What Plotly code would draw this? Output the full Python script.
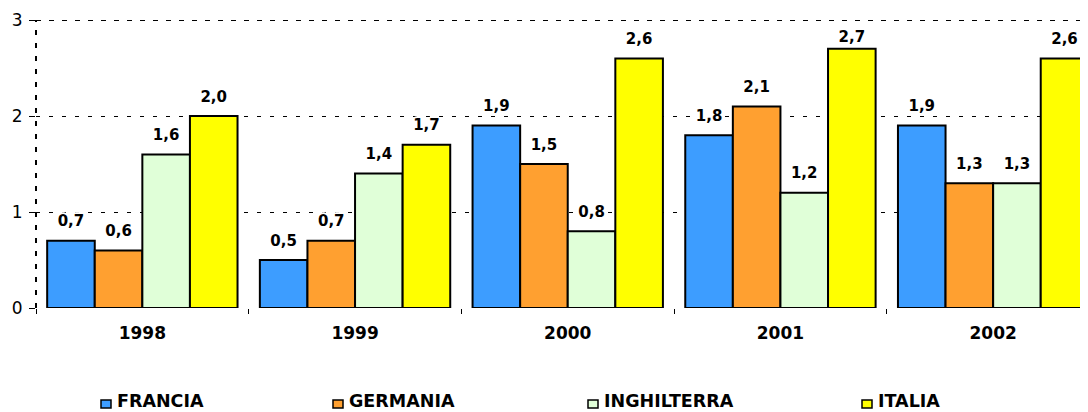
import plotly.graph_objects as go

years = ["1998", "1999", "2000", "2001", "2002"]
series = ["FRANCIA", "GERMANIA", "INGHILTERRA", "ITALIA"]
francia = [0.7, 0.5, 1.9, 1.8, 1.9]
germania = [0.6, 0.7, 1.5, 2.1, 1.3]
inghilterra = [1.6, 1.4, 0.8, 1.2, 1.3]
italia = [2.0, 1.7, 2.6, 2.7, 2.6]
y_ticks = [0, 1, 2, 3]

colors = ["#3D9DFF", "#FFA030", "#E0FFD8", "#FFFF00"]
values = [francia, germania, inghilterra, italia]

FONT = "DejaVu Sans"
OFF = 8  # page body margin
W, H = 1088 - OFF, 412 - OFF
ML, MR, MT, MB = 36 - OFF, 0, 20 - OFF, 104
YMAX = 3
LABEL_FS = 15

pw = W - ML - MR
ph = H - MT - MB
px_per_unit = ph / YMAX


def label_marker_size(v):
    # gap (px) from bar top to label baseline; labels kept inside plot area
    gap = min(14.4, (YMAX - v) * px_per_unit - 21.7)
    r = gap - 0.25 * LABEL_FS
    return max(0.0, 2 * (r - 1) * 0.8)


fig = go.Figure()
for name, vals, col in zip(series, values, colors):
    fig.add_trace(go.Bar(
        x=years, y=vals, name=name,
        marker=dict(color=col, line=dict(color="black", width=2)),
        showlegend=False, hoverinfo="skip",
    ))
for name, vals in zip(series, values):
    fig.add_trace(go.Scatter(
        x=years, y=vals, name=name, mode="markers+text",
        texttemplate="%{y:.1f}", textposition="top center",
        marker=dict(size=[label_marker_size(v) for v in vals], opacity=0),
        textfont=dict(family=FONT, size=LABEL_FS, color="black", weight="bold",
                      shadow="2px 0 1px white, -2px 0 1px white, 0 2px 1px white, 0 -2px 1px white"),
        showlegend=False, hoverinfo="skip", cliponaxis=False,
    ))

# plot-area border (dashed) on left and top
shapes = [
    dict(type="line", xref="paper", yref="y", x0=0, x1=1, y0=YMAX, y1=YMAX,
         line=dict(color="black", width=2, dash="5px,8px")),
    dict(type="line", xref="paper", yref="y", x0=0, x1=0, y0=0, y1=YMAX,
         line=dict(color="black", width=2, dash="5px,8px")),
]


# custom legend (page pixel positions converted to paper coords)
def px2x(px):
    return (px - OFF - ML) / pw


def py2y(py):
    return (OFF + H - MB - py) / ph


legend_px = [101, 333, 588, 862]
annotations = []
for name, col, lx in zip(series, colors, legend_px):
    shapes.append(dict(type="rect", xref="paper", yref="paper",
                       x0=px2x(lx), x1=px2x(lx + 10), y0=py2y(408), y1=py2y(400),
                       fillcolor=col, line=dict(color="black", width=1.5)))
    annotations.append(dict(xref="paper", yref="paper", x=px2x(lx + 15), y=py2y(401),
                            text=name, showarrow=False, xanchor="left", yanchor="middle",
                            borderpad=0,
                            font=dict(family=FONT, size=17.5, color="black", weight="bold")))

fig.update_layout(
    width=W, height=H,
    margin=dict(l=ML, r=MR, t=MT, b=MB, pad=0),
    plot_bgcolor="white", paper_bgcolor="white",
    barmode="group", bargap=0.105, bargroupgap=0,
    scattermode="group", scattergap=0.105,
    separators=",.",
    showlegend=False,
    font=dict(family=FONT, color="black"),
    shapes=shapes, annotations=annotations,
    xaxis=dict(type="category", range=[-0.5, 4.446], tickson="boundaries",
               ticks="outside", ticklen=5, tickcolor="black", tickwidth=1,
               showgrid=False, showline=False, zeroline=False,
               ticklabelstandoff=13,
               tickfont=dict(family=FONT, size=17, color="black", weight="bold"),
               fixedrange=True),
    yaxis=dict(range=[0, YMAX], tickvals=y_ticks, ticks="outside", ticklen=6,
               tickcolor="black", tickwidth=1,
               showgrid=True, gridcolor="black", griddash="4px,9px", gridwidth=1,
               zeroline=False, showline=False, ticklabelstandoff=3,
               tickfont=dict(family=FONT, size=17, color="black"),
               fixedrange=True),
)

fig.write_html("out.html", config={"displayModeBar": False})
